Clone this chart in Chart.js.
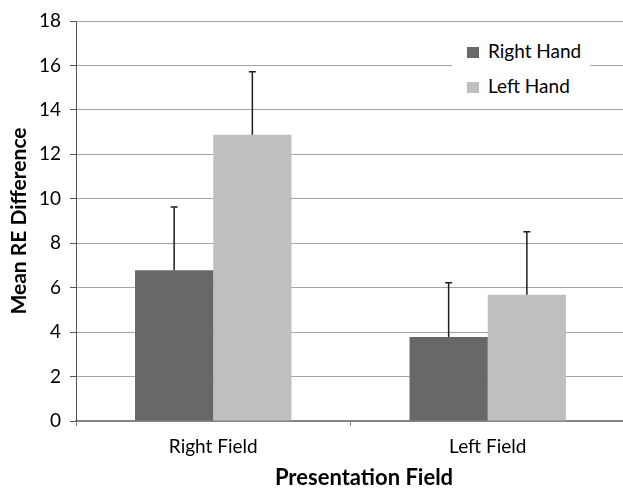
<!DOCTYPE html>
<html>
<head>
<meta charset="utf-8">
<script src="https://cdn.jsdelivr.net/npm/chart.js@4.4.1/dist/chart.umd.min.js"></script>
<style>
  html, body { margin: 0; padding: 0; background: #fff; overflow: hidden; }
  #wrap { position: relative; width: 625px; height: 489px; }
  #legend {
    position: absolute; left: 452px; top: 31px; width: 138px; height: 70px;
    background: #fff; font-family: Lato, sans-serif; font-size: 19px; color: #000;
  }
  #legend .item { position: absolute; left: 15px; height: 22px; line-height: 22px; white-space: nowrap; }
  #legend .sw { display: inline-block; width: 12px; height: 11px; vertical-align: middle; margin-right: 9px; position: relative; top: -1px; }
</style>
</head>
<body>
<div id="wrap">
  <canvas id="c"></canvas>
  <div id="legend"></div>
</div>
<script>
// Categories and series
const fields = ['Right Field', 'Left Field'];
const seriesNames = ['Right Hand', 'Left Hand'];
const rightHand = [6.78, 3.78];
const leftHand = [12.88, 5.68];
// Upward error amounts for each bar
const rightHandErr = [2.85, 2.44];
const leftHandErr = [2.84, 2.84];
// Y axis ticks
const yTicks = [0, 2, 4, 6, 8, 10, 12, 14, 16, 18];

const colors = ['#686868', '#bfbfbf'];
const FONT = 'Lato, sans-serif';

// One-sided error bars drawn from each bar's top
const errorBars = {
  id: 'errorBars',
  afterDatasetsDraw(chart) {
    const ctx = chart.ctx;
    const ys = chart.scales.y;
    ctx.save();
    ctx.strokeStyle = '#1e1e1e';
    ctx.lineWidth = 1.5;
    chart.data.datasets.forEach((ds, di) => {
      const meta = chart.getDatasetMeta(di);
      meta.data.forEach((bar, i) => {
        const top = ys.getPixelForValue(ds.data[i] + ds.errors[i]);
        ctx.beginPath();
        ctx.moveTo(bar.x, bar.y);
        ctx.lineTo(bar.x, top);
        ctx.moveTo(bar.x - 3.5, top);
        ctx.lineTo(bar.x + 3.5, top);
        ctx.stroke();
      });
    });
    ctx.restore();
  }
};

// X axis title below the category labels
const xTitle = {
  id: 'xTitle',
  afterDraw(chart) {
    const ctx = chart.ctx;
    ctx.save();
    ctx.font = 'bold 22px ' + FONT;
    ctx.fillStyle = '#000';
    ctx.textAlign = 'center';
    ctx.textBaseline = 'middle';
    ctx.fillText('Presentation Field', 364, 478);
    ctx.restore();
  }
};

const chart = new Chart(document.getElementById('c'), {
  type: 'bar',
  data: {
    labels: fields,
    datasets: [
      { label: seriesNames[0], data: rightHand, errors: rightHandErr, backgroundColor: colors[0] },
      { label: seriesNames[1], data: leftHand, errors: leftHandErr, backgroundColor: colors[1] }
    ]
  },
  options: {
    responsive: true,
    maintainAspectRatio: false,
    animation: false,
    devicePixelRatio: 1,
    layout: { padding: { top: 21, right: 0, bottom: 0, left: 0 } },
    datasets: { bar: { categoryPercentage: 0.57, barPercentage: 1.0, borderWidth: 0 } },
    plugins: { legend: { display: false }, tooltip: { enabled: false } },
    scales: {
      x: {
        offset: true,
        grid: { display: true, offset: true, drawOnChartArea: false, drawTicks: true, tickLength: 5, color: '#808080' },
        border: { display: true, color: '#858585', width: 2 },
        ticks: { font: { family: FONT, size: 19 }, color: '#000', padding: 9 },
        afterFit(scale) { scale.height = 68; }
      },
      y: {
        min: 0, max: 18,
        afterBuildTicks(scale) { scale.ticks = yTicks.map(v => ({ value: v })); },
        grid: { color: '#a4a4a4', lineWidth: 1, tickLength: 6, tickColor: '#555' },
        border: { display: true, color: '#555', width: 1 },
        ticks: { font: { family: FONT, size: 19 }, color: '#000', padding: 9 },
        title: { display: true, text: 'Mean RE Difference', font: { family: FONT, size: 21, weight: 'bold' }, color: '#000', padding: { top: 7, bottom: 0 } },
        afterFit(scale) { scale.width = 76; }
      }
    }
  },
  plugins: [errorBars, xTitle]
});

// Legend built from the chart's datasets
const legend = document.getElementById('legend');
chart.data.datasets.forEach((ds, i) => {
  const item = document.createElement('div');
  item.className = 'item';
  item.style.top = (9 + i * 35) + 'px';
  const sw = document.createElement('span');
  sw.className = 'sw';
  sw.style.background = ds.backgroundColor;
  item.appendChild(sw);
  item.appendChild(document.createTextNode(ds.label));
  legend.appendChild(item);
});
</script>
</body>
</html>
